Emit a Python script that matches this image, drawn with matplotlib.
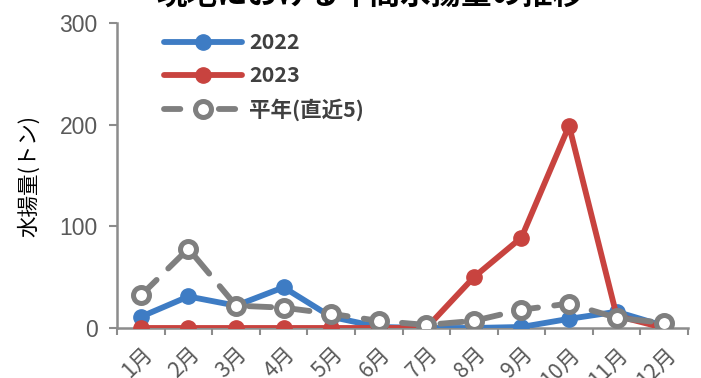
import matplotlib
matplotlib.use("Agg")
import matplotlib.pyplot as plt
from matplotlib.lines import Line2D
from matplotlib.ticker import FixedLocator, NullFormatter

plt.rcParams['font.family'] = ['Noto Sans CJK JP', 'DejaVu Sans']

months = ["1月", "2月", "3月", "4月", "5月", "6月", "7月", "8月", "9月", "10月", "11月", "12月"]
catch_2022 = [11, 31, 22, 40, 11, 1, 0, 0, 1, 9, 16, 2]
catch_2023 = [0, 0, 0, 0, 0, 0, 0, 50, 89, 199, 12, 0]
catch_normal = [32, 78, 22, 20, 14, 7, 3, 7, 18, 24, 10, 5]
series_labels = ["2022", "2023", "平年(直近5)"]
yticks = [0, 100, 200, 300]

blue = "#3e7cc4"
red = "#c8433f"
gray = "#7f7f7f"
axis_gray = "#8c8c8c"
text_gray = "#595959"

fig = plt.figure(figsize=(7.01, 3.78), dpi=100)
ax = fig.add_axes([0.1669, 0.1323, 0.8146, 0.8067])

x = list(range(len(months)))
l1, = ax.plot(x, catch_2022, color=blue, lw=4.2, marker='o', ms=11,
              mfc=blue, mec=blue, solid_capstyle='round', zorder=3)
l2, = ax.plot(x, catch_2023, color=red, lw=4.2, marker='o', ms=11,
              mfc=red, mec=red, solid_capstyle='round', zorder=4)
ax.plot(x, catch_normal, color=gray, lw=4.2, ls=(0, (3.8, 2.8)),
        marker='o', ms=11.5, mfc='white', mec=gray, mew=3.6,
        dash_capstyle='round', zorder=5)

# legend key for the average: dash, open circle, dash
l3 = Line2D([], [], color=gray, lw=4.2, ls=(0, (2.8, 6.6)),
            marker='o', ms=11.5, mfc='white', mec=gray, mew=3.6,
            dash_capstyle='round')

ax.set_xlim(-0.5, len(months) - 0.5)
ax.set_ylim(0, 300)
ax.set_yticks(yticks)
ax.set_yticklabels([str(v) for v in yticks], fontsize=16.5, color=text_gray,
                   family=['Liberation Sans'])

ax.set_xticks(x)
ax.set_xticklabels(months, rotation=45, ha='right', va='top', fontsize=15.5,
                   color=text_gray, rotation_mode='anchor')
ax.tick_params(axis='x', which='major', length=0, pad=11)
ax.xaxis.set_minor_locator(FixedLocator([i - 0.5 for i in range(len(months) + 1)]))
ax.xaxis.set_minor_formatter(NullFormatter())
ax.tick_params(axis='x', which='minor', length=5, width=1.5, color=axis_gray, direction='out')
ax.tick_params(axis='y', length=6, width=1.5, color=axis_gray, pad=8)

for side in ('top', 'right'):
    ax.spines[side].set_visible(False)
for side in ('left', 'bottom'):
    ax.spines[side].set_color(axis_gray)
    ax.spines[side].set_linewidth(1.8)

ax.set_ylabel("水揚量(トン)", fontsize=15.5, color='black', labelpad=14)

leg = ax.legend([l1, l2, l3], series_labels, loc='upper left',
                bbox_to_anchor=(0.06, 1.012), frameon=False, handlelength=3.6,
                handletextpad=0.35, labelspacing=0.55, borderaxespad=0.2,
                prop={'size': 15.5, 'weight': 'bold'})
for t in leg.get_texts():
    t.set_color("#404040")

fig.text(0.528, 0.972, "現地における年間水揚量の推移", ha='center', va='bottom',
         fontsize=22, color='black', weight='bold')

fig.savefig("out.png", dpi=100)
